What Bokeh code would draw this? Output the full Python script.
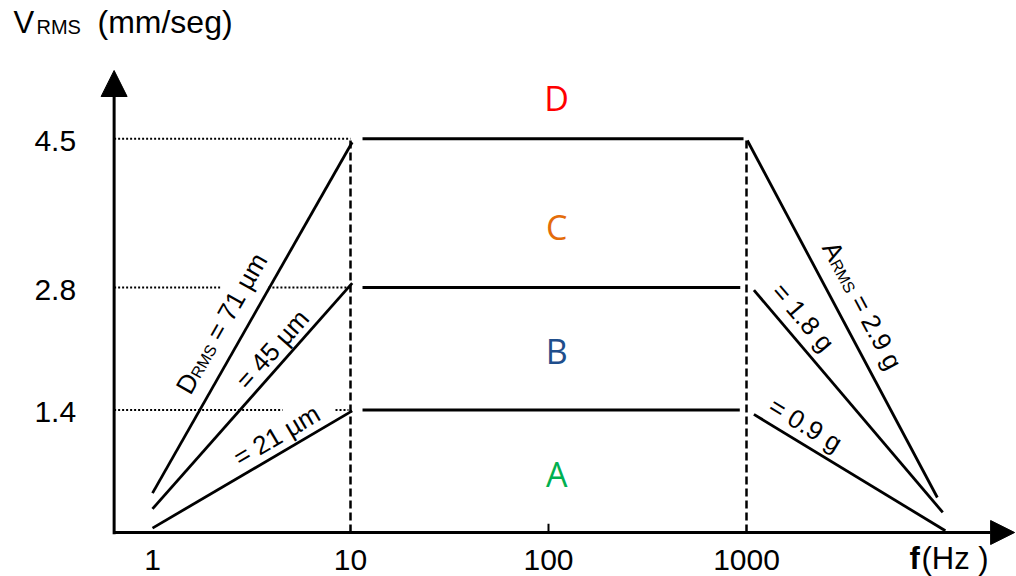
import math

from bokeh.plotting import figure
from bokeh.models import Range1d, Arrow, NormalHead, ColumnDataSource
from bokeh.core.properties import value
from bokeh.embed import file_html
from bokeh.resources import INLINE

# ---------------------------------------------------------------- data
# frequency axis (Hz) and velocity limits (mm/seg RMS)
freq_ticks = [1, 10, 100, 1000]
freq_labels = ["1", "10", "100", "1000"]
level_values = [4.5, 2.8, 1.4]
level_labels = ["4.5", "2.8", "1.4"]

# severity zones
zone_names = ["A", "B", "C", "D"]
zone_colors = ["#00B050", "#1F4E8C", "#E46C0A", "#FF0000"]
zone_v = [0.67, 2.08, 3.49, 4.97]
zone_f = 110

# displacement-limited rise (constant D_RMS: 21, 45, 71 µm)
rise_f0 = [1, 1, 1]
rise_v0 = [0.05, 0.27, 0.45]
rise_f1 = [10.2, 10.2, 10.2]
rise_v1 = [1.39, 2.85, 4.46]
rise_text = ["= 21 µm", "= 45 µm", "= 71 µm"]

# constant-velocity plateau
plat_f0 = [11.5, 11.5, 11.5]
plat_f1 = [925, 930, 966]
plat_v = [1.4, 2.8, 4.5]

# acceleration-limited fall (constant A_RMS: 0.9, 1.8, 2.9 g)
fall_f0 = [1090, 1090, 1010]
fall_v0 = [1.35, 2.77, 4.48]
fall_f1 = [10100, 9800, 9200]
fall_v1 = [0.02, 0.23, 0.40]
fall_text = ["= 0.9 g", "= 1.8 g", "= 2.9 g"]

# corner frequencies (dashed verticals)
corner_f = [10, 1000]
corner_top = 4.5

# dotted guides from the velocity axis to the 10 Hz corner
guide_f0 = [0.64, 0.64, 3.85, 0.64, 8.4]
guide_f1 = [10, 2.21, 10, 4.54, 9.77]
guide_v = [4.5, 2.8, 2.8, 1.4, 1.4]

axis_f = 0.64          # frequency where the velocity axis stands
axis_top_v = 5.28      # tip of the velocity arrow
axis_right_f = 22600   # tip of the frequency arrow

# ---------------------------------------------------------------- scales
W, H = 1016, 576
X0, XD = 152, 198      # pixel column of 1 Hz, pixels per decade
Y0, YU = 532, 87.5     # pixel row of 0 mm/seg, pixels per mm/seg
MID = 0.3465           # em-box middle above the alphabetic baseline

F_LEFT = 10 ** (-X0 / XD)
V_TOP = Y0 / YU


def to_px(f, v):
    return X0 + XD * math.log10(f), Y0 - YU * v


p = figure(
    width=W, height=H,
    x_axis_type="log",
    x_range=Range1d(F_LEFT, 10 ** ((W - X0) / XD)),
    y_range=Range1d(-(H - Y0) / YU, V_TOP),
    x_axis_location=None, y_axis_location=None,
    toolbar_location=None, output_backend="svg",
    min_border=0,
)
p.outline_line_color = None
p.grid.visible = False
p.background_fill_color = "white"
p.border_fill_color = "white"

FONT = value("Liberation Sans")

# dotted guides
p.segment(x0=guide_f0, y0=guide_v, x1=guide_f1, y1=guide_v,
          line_color="black", line_width=2, line_dash="2 2")

# dashed corner verticals
p.segment(x0=corner_f, y0=[0, 0], x1=corner_f, y1=[corner_top] * 2,
          line_color="black", line_width=2.5, line_dash="8 4")

# limit curves
p.segment(x0=rise_f0, y0=rise_v0, x1=rise_f1, y1=rise_v1,
          line_color="black", line_width=2.8)
p.segment(x0=plat_f0, y0=plat_v, x1=plat_f1, y1=plat_v,
          line_color="black", line_width=2.8)
p.segment(x0=fall_f0, y0=fall_v0, x1=fall_f1, y1=fall_v1,
          line_color="black", line_width=2.8)

# small tick at 100 Hz
p.segment(x0=[100], y0=[0], x1=[100], y1=[0.1], line_color="black", line_width=2)

# axes with arrow heads
p.add_layout(Arrow(x_start=axis_f, y_start=-0.02, x_end=axis_f, y_end=axis_top_v,
                   line_width=3, line_color="black",
                   end=NormalHead(size=26, fill_color="black", line_color="black")))
p.add_layout(Arrow(x_start=axis_f, y_start=0, x_end=axis_right_f, y_end=0,
                   line_width=3, line_color="black",
                   end=NormalHead(size=24, fill_color="black", line_color="black")))

# tick labels
p.text(x=[axis_f] * 3, y=level_values, text=level_labels,
       x_offset=-38, y_offset=2, text_align="right", text_baseline="middle",
       text_font=FONT, text_font_size="30px", text_color="black")
p.text(x=freq_ticks, y=[0] * 4, text=freq_labels,
       y_offset=27, text_align="center", text_baseline="middle",
       text_font=FONT, text_font_size="30px", text_color="black")
p.text(x=[1e4], y=[0], text=["f"], x_offset=-35, y_offset=26,
       text_align="left", text_baseline="middle", text_font=FONT,
       text_font_size="31px", text_font_style="bold", text_color="black")
p.text(x=[1e4], y=[0], text=["(Hz )"], x_offset=-23, y_offset=26,
       text_align="left", text_baseline="middle", text_font=FONT,
       text_font_size="31px", text_color="black")

# zone letters
p.text(x=[zone_f] * 4, y=zone_v, text=zone_names, text_color=zone_colors,
       text_align="center", text_baseline="middle",
       text_font=value("Open Sans"), text_font_size="34px")

# velocity axis title, anchored at the top-left corner (subscript on the baseline)
TITLE_BASE = 33
title_parts = [("V", 13, 31), ("RMS", 36, 20), ("(mm/seg)", 97, 32)]
p.text(x=[F_LEFT] * 3, y=[V_TOP] * 3,
       text=[t for t, _, _ in title_parts],
       x_offset=[sx for _, sx, _ in title_parts],
       y_offset=[TITLE_BASE - MID * s for _, _, s in title_parts],
       text_font_size=[f"{s}px" for _, _, s in title_parts],
       text_align="left", text_baseline="middle", text_font=FONT,
       text_color="black")

# ---------------------------------------------------------------- line notes
ADV = {"D": .722, "R": .722, "M": .833, "S": .667, "A": .667, " ": .278,
       "=": .584, "µ": .576, "m": .833, "g": .556, ".": .278}


def width(txt, size):
    return sum(ADV.get(c, .556) for c in txt) * size


def note_on_line(f0, v0, f1, v1, t, perp, pieces):
    """Place text pieces parallel to a segment, centred at fraction t,
    lifted perp pixels away from it. pieces: (gap_em, text, size_px)."""
    x0, y0 = to_px(f0, v0)
    x1, y1 = to_px(f1, v1)
    ang = math.atan2(-(y1 - y0), x1 - x0)
    dx, dy = math.cos(ang), -math.sin(ang)
    ux, uy = -math.sin(ang), -math.cos(ang)
    lf = 10 ** (math.log10(f0) + t * (math.log10(f1) - math.log10(f0)))
    lv = v0 + t * (v1 - v0)
    total = sum(g * s + width(txt, s) for g, txt, s in pieces)
    main = max(s for _, _, s in pieces)
    out = dict(x=[], y=[], text=[], size=[], angle=[], xo=[], yo=[])
    adv = -total / 2
    for gap, txt, size in pieces:
        adv += gap * size
        lift = perp - MID * (main - size)
        out["x"].append(lf)
        out["y"].append(lv)
        out["text"].append(txt)
        out["size"].append(f"{size}px")
        out["angle"].append(ang)
        out["xo"].append(lift * ux + adv * dx)
        out["yo"].append(lift * uy + adv * dy)
        adv += width(txt, size)
    return out


def pieces_for(txt, prefix=None):
    if prefix is None:
        return [(0, txt, 26)]
    return [(0, prefix, 26), (0, "RMS", 16), (0.278, txt, 26)]


notes = [
    # (segment, t, perp, pieces)
    ((rise_f0[2], rise_v0[2], rise_f1[2], rise_v1[2]), 0.45, 24, pieces_for(rise_text[2], "D")),
    ((rise_f0[1], rise_v0[1], rise_f1[1], rise_v1[1]), 0.66, 16, pieces_for(rise_text[1])),
    ((rise_f0[0], rise_v0[0], rise_f1[0], rise_v1[0]), 0.665, 17, pieces_for(rise_text[0])),
    ((fall_f0[2], fall_v0[2], fall_f1[2], fall_v1[2]), 0.494, 24, pieces_for(fall_text[2], "A")),
    ((fall_f0[1], fall_v0[1], fall_f1[1], fall_v1[1]), 0.18, 20, pieces_for(fall_text[1])),
    ((fall_f0[0], fall_v0[0], fall_f1[0], fall_v1[0]), 0.22, 18, pieces_for(fall_text[0])),
]
cols = dict(x=[], y=[], text=[], size=[], angle=[], xo=[], yo=[])
for seg, t, perp, pieces in notes:
    part = note_on_line(*seg, t, perp, pieces)
    for k in cols:
        cols[k].extend(part[k])
src = ColumnDataSource(cols)
p.text(x="x", y="y", text="text", angle="angle", x_offset="xo", y_offset="yo",
       text_font_size="size", source=src, text_font=FONT,
       text_align="left", text_baseline="middle", text_color="black")

open("out.html", "w").write(file_html(p, INLINE))
